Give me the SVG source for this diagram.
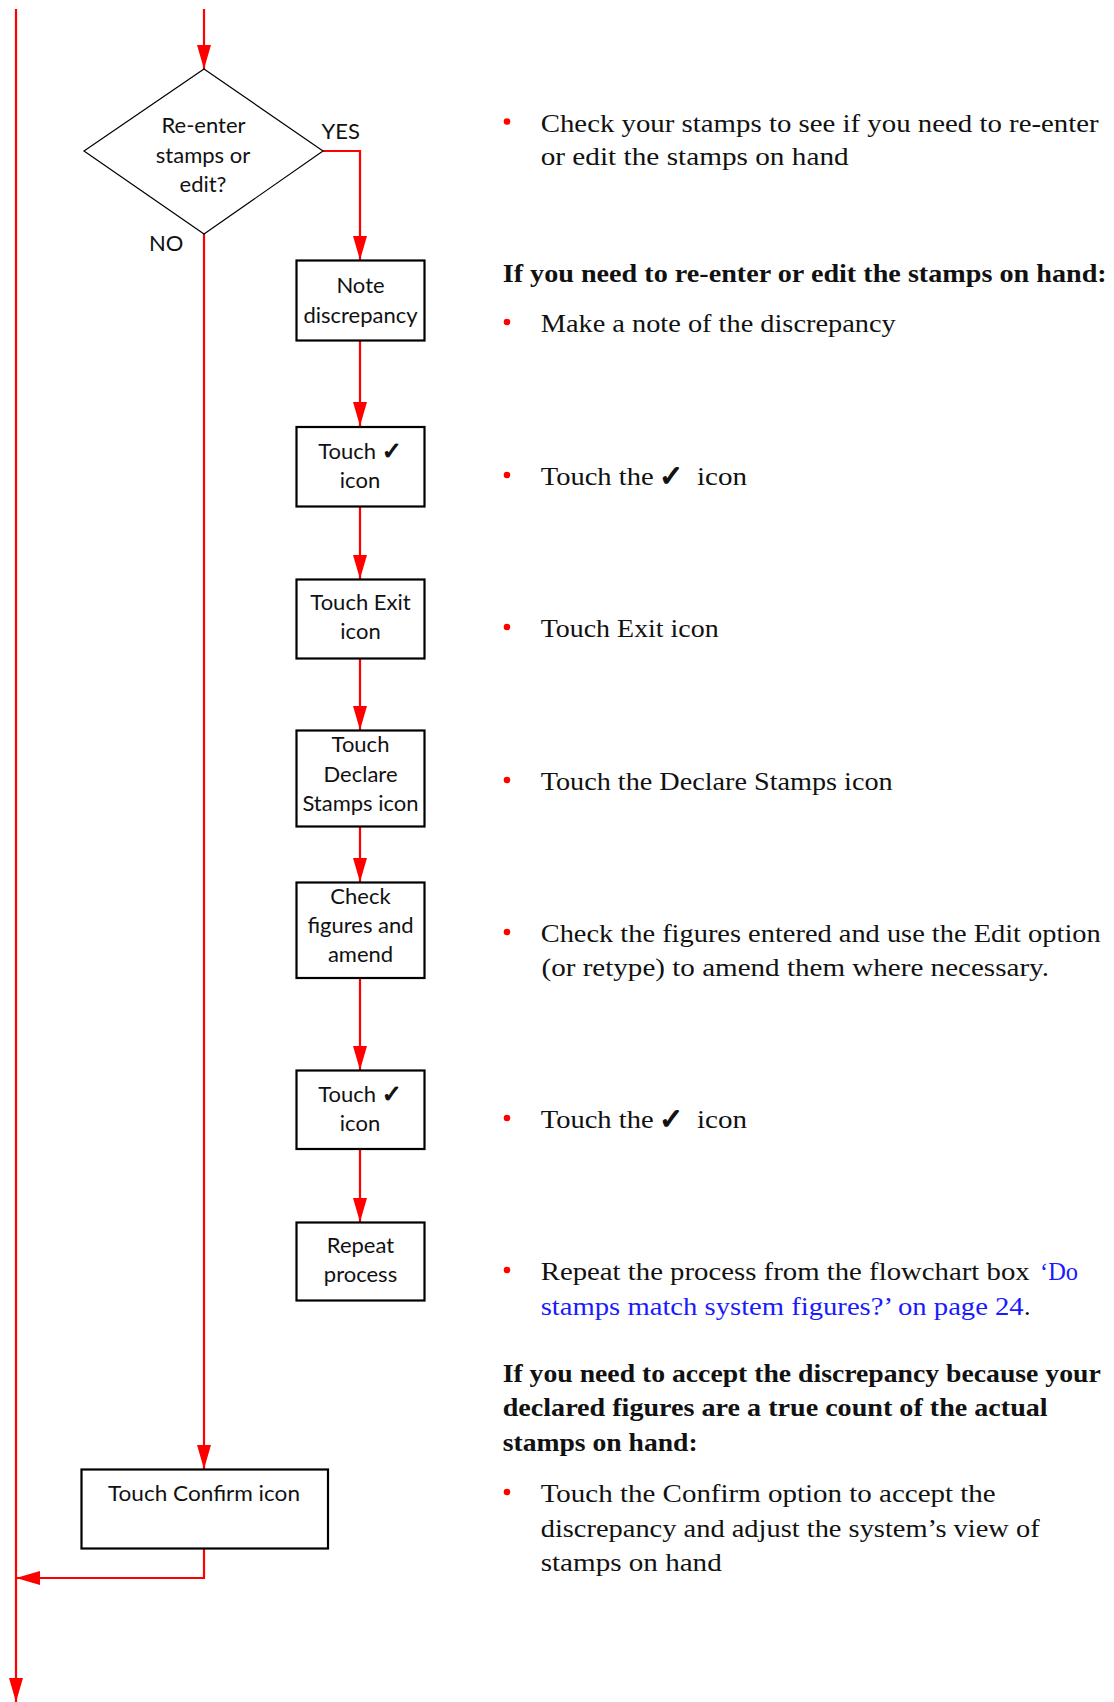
<svg xmlns="http://www.w3.org/2000/svg" width="1114" height="1702" viewBox="0 0 1114 1702">
  <style>
    .box { fill: #ffffff; stroke: #000000; stroke-width: 2.2; }
    .decision { fill: #ffffff; stroke: #000000; stroke-width: 1.2; }
    .lbl { font-family: Lato, "Open Sans", "Liberation Sans", sans-serif; font-size: 22px; fill: #111111; text-anchor: middle; }
    .tag { font-family: Lato, "Open Sans", "Liberation Sans", sans-serif; font-size: 22px; fill: #111111; }
    .wire { fill: none; stroke: #ff0000; stroke-width: 2.2; }
    .body { font-family: "Liberation Serif", "Times New Roman", serif; font-size: 26px; fill: #111111; }
    .head { font-family: "Liberation Serif", "Times New Roman", serif; font-size: 26px; font-weight: bold; fill: #111111; }
    .link { fill: #1a1aff; }
    .tick { font-family: "DejaVu Sans", sans-serif; font-size: 29px; fill: #111111; stroke: #111111; stroke-width: 1.3; stroke-linejoin: round; }
    .tick-s { font-family: "DejaVu Sans", sans-serif; font-size: 24px; stroke: #111111; stroke-width: 1.1; stroke-linejoin: round; }
    .bullet { fill: #ff0000; }
  </style>
  <defs>
    <marker id="arrow" viewBox="0 0 24 14" refX="24" refY="7" markerWidth="24" markerHeight="14" markerUnits="userSpaceOnUse" orient="auto">
      <path d="M0,0 L24,7 L0,14 z" fill="#ff0000"/>
    </marker>
  </defs>

  <!-- connectors -->
  <g id="connectors">
    <path class="wire" d="M16,9 V1702" marker-end="url(#arrow)"/>
    <path class="wire" d="M204,9 V69" marker-end="url(#arrow)"/>
    <path class="wire" d="M323,151 H360 V260" marker-end="url(#arrow)"/>
    <path class="wire" d="M204,234 V1469" marker-end="url(#arrow)"/>
    <path class="wire" d="M360,341 V426" marker-end="url(#arrow)"/>
    <path class="wire" d="M360,507 V579" marker-end="url(#arrow)"/>
    <path class="wire" d="M360,659 V730" marker-end="url(#arrow)"/>
    <path class="wire" d="M360,827 V882" marker-end="url(#arrow)"/>
    <path class="wire" d="M360,978 V1070" marker-end="url(#arrow)"/>
    <path class="wire" d="M360,1149 V1222" marker-end="url(#arrow)"/>
    <path class="wire" d="M204,1549 V1578 H16" marker-end="url(#arrow)"/>
  </g>

  <!-- decision -->
  <g id="decision">
    <polygon class="decision" points="204,69 323,151 204,234 84,151"/>
    <text class="lbl" x="203.5" y="133">Re-enter</text>
    <text class="lbl" x="203" y="162.5">stamps or</text>
    <text class="lbl" x="203" y="192">edit?</text>
    <text class="tag" x="321.5" y="139">YES</text>
    <text class="tag" x="149" y="251">NO</text>
  </g>

  <!-- process steps -->
  <g id="note-discrepancy">
    <rect class="box" x="296.5" y="260.5" width="128" height="80"/>
    <text class="lbl" x="360.5" y="293">Note</text>
    <text class="lbl" x="360.5" y="322.5">discrepancy</text>
  </g>
  <g id="touch-tick-1">
    <rect class="box" x="296.5" y="427" width="128" height="79.5"/>
    <text class="lbl" x="360" y="459">Touch <tspan class="tick-s">✓</tspan></text>
    <text class="lbl" x="360" y="488">icon</text>
  </g>
  <g id="touch-exit">
    <rect class="box" x="296.5" y="579.5" width="128" height="79"/>
    <text class="lbl" x="360.5" y="610">Touch Exit</text>
    <text class="lbl" x="360.5" y="639">icon</text>
  </g>
  <g id="touch-declare">
    <rect class="box" x="296.5" y="730.5" width="128" height="96"/>
    <text class="lbl" x="360.5" y="752">Touch</text>
    <text class="lbl" x="360.5" y="781.5">Declare</text>
    <text class="lbl" x="360.5" y="811">Stamps icon</text>
  </g>
  <g id="check-figures">
    <rect class="box" x="296.5" y="882.5" width="128" height="95.5"/>
    <text class="lbl" x="360.5" y="904">Check</text>
    <text class="lbl" x="360.5" y="933">figures and</text>
    <text class="lbl" x="360.5" y="962">amend</text>
  </g>
  <g id="touch-tick-2">
    <rect class="box" x="296.5" y="1070.5" width="128" height="78.5"/>
    <text class="lbl" x="360" y="1101.5">Touch <tspan class="tick-s">✓</tspan></text>
    <text class="lbl" x="360" y="1131">icon</text>
  </g>
  <g id="repeat-process">
    <rect class="box" x="296.5" y="1222.5" width="128" height="78"/>
    <text class="lbl" x="360.5" y="1253">Repeat</text>
    <text class="lbl" x="360.5" y="1282">process</text>
  </g>
  <g id="touch-confirm">
    <rect class="box" x="81.5" y="1469.5" width="246.5" height="79"/>
    <text class="lbl" x="204" y="1501" textLength="192" lengthAdjust="spacingAndGlyphs">Touch Confirm icon</text>
  </g>

  <!-- explanatory notes -->
  <g id="notes">
    <circle class="bullet" cx="507" cy="121.5" r="3.3"/>
    <text class="body" x="540.7" y="131.5" textLength="558" lengthAdjust="spacingAndGlyphs">Check your stamps to see if you need to re-enter</text>
    <text class="body" x="540.7" y="165" textLength="308" lengthAdjust="spacingAndGlyphs">or edit the stamps on hand</text>

    <text class="head" x="502.7" y="282" textLength="604" lengthAdjust="spacingAndGlyphs">If you need to re-enter or edit the stamps on hand:</text>

    <circle class="bullet" cx="507" cy="322" r="3.3"/>
    <text class="body" x="540.7" y="332" textLength="355" lengthAdjust="spacingAndGlyphs">Make a note of the discrepancy</text>

    <circle class="bullet" cx="507" cy="475" r="3.3"/>
    <text class="body" x="540.7" y="485" textLength="113" lengthAdjust="spacingAndGlyphs">Touch the</text>
    <text class="tick" x="659" y="486">✓</text>
    <text class="body" x="697" y="485" textLength="50" lengthAdjust="spacingAndGlyphs">icon</text>

    <circle class="bullet" cx="507" cy="627" r="3.3"/>
    <text class="body" x="540.7" y="637" textLength="178" lengthAdjust="spacingAndGlyphs">Touch Exit icon</text>

    <circle class="bullet" cx="507" cy="780" r="3.3"/>
    <text class="body" x="540.7" y="790" textLength="352" lengthAdjust="spacingAndGlyphs">Touch the Declare Stamps icon</text>

    <circle class="bullet" cx="507" cy="932" r="3.3"/>
    <text class="body" x="540.7" y="942" textLength="560" lengthAdjust="spacingAndGlyphs">Check the figures entered and use the Edit option</text>
    <text class="body" x="541.5" y="975.5" textLength="507.5" lengthAdjust="spacingAndGlyphs">(or retype) to amend them where necessary.</text>

    <circle class="bullet" cx="507" cy="1118" r="3.3"/>
    <text class="body" x="540.7" y="1128" textLength="113" lengthAdjust="spacingAndGlyphs">Touch the</text>
    <text class="tick" x="659" y="1129">✓</text>
    <text class="body" x="697" y="1128" textLength="50" lengthAdjust="spacingAndGlyphs">icon</text>

    <circle class="bullet" cx="507" cy="1270" r="3.3"/>
    <text class="body" x="540.7" y="1280" textLength="489" lengthAdjust="spacingAndGlyphs">Repeat the process from the flowchart box</text>
    <text class="body link" x="1040" y="1280" textLength="38" lengthAdjust="spacingAndGlyphs">‘Do</text>
    <text class="body link" x="540.7" y="1315" textLength="483" lengthAdjust="spacingAndGlyphs">stamps match system figures?’ on page 24</text>
    <text class="body" x="1024" y="1315">.</text>

    <text class="head" x="502.7" y="1381.5" textLength="598" lengthAdjust="spacingAndGlyphs">If you need to accept the discrepancy because your</text>
    <text class="head" x="502.7" y="1416" textLength="545" lengthAdjust="spacingAndGlyphs">declared figures are a true count of the actual</text>
    <text class="head" x="502.7" y="1450.5" textLength="195" lengthAdjust="spacingAndGlyphs">stamps on hand:</text>

    <circle class="bullet" cx="507" cy="1492" r="3.3"/>
    <text class="body" x="540.7" y="1502" textLength="455" lengthAdjust="spacingAndGlyphs">Touch the Confirm option to accept the</text>
    <text class="body" x="540.7" y="1537" textLength="499" lengthAdjust="spacingAndGlyphs">discrepancy and adjust the system’s view of</text>
    <text class="body" x="540.7" y="1571" textLength="181" lengthAdjust="spacingAndGlyphs">stamps on hand</text>
  </g>
</svg>
